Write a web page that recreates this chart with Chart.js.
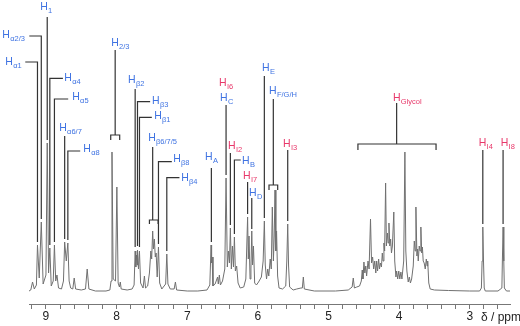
<!DOCTYPE html>
<html lang="en">
<head>
  <meta charset="UTF-8" />
  <title>1H NMR spectrum</title>
  <script src="https://cdn.jsdelivr.net/npm/chart.js"></script>
  <style>
    body { margin: 0; background: #fff; }
    canvas { display: block; }
  </style>
</head>
<body>
  <canvas id="nmrChart" width="520" height="326"></canvas>
  <script>
    // chemical shift (ppm) and intensity left to right
    const shiftPpm = [
      9.24, 9.215, 9.19, 9.165, 9.135, 9.12, 9.095, 9.066, 9.04, 9.0, 8.982, 8.963, 8.945, 8.925,
      8.897, 8.880, 8.862, 8.844, 8.822, 8.78, 8.752, 8.735, 8.712, 8.69, 8.672, 8.65, 8.62, 8.60,
      8.58, 8.5, 8.44, 8.416, 8.392, 8.3, 8.15,
      8.095, 8.078, 8.065, 8.048, 8.015, 7.996, 7.978, 7.96, 7.947, 7.935, 7.85, 7.78, 7.752, 7.737,
      7.728, 7.718, 7.71, 7.704, 7.69, 7.676, 7.66, 7.625, 7.606, 7.59, 7.56, 7.535, 7.515, 7.503,
      7.489, 7.478, 7.465, 7.452, 7.44, 7.425, 7.407, 7.39, 7.36, 7.305, 7.289, 7.273, 7.24, 7.185,
      7.167, 7.15, 7.0, 6.85,
      6.72, 6.68, 6.662, 6.655, 6.648, 6.635, 6.605, 6.57, 6.56, 6.545, 6.53, 6.5, 6.468, 6.45,
      6.432, 6.417, 6.402, 6.389, 6.375, 6.36, 6.345, 6.332, 6.318, 6.30, 6.28, 6.25, 6.2, 6.17,
      6.145, 6.135, 6.125, 6.11, 6.098, 6.086, 6.075, 6.062, 6.045, 6.02, 5.99, 5.95, 5.925, 5.908,
      5.895, 5.877, 5.86, 5.845, 5.825, 5.81, 5.795, 5.78, 5.768, 5.757, 5.745, 5.735, 5.72, 5.70,
      5.65, 5.605, 5.59, 5.577, 5.565, 5.55, 5.5, 5.45, 5.39, 5.37, 5.356, 5.342, 5.2, 4.9, 4.72,
      4.665, 4.649, 4.633, 4.6, 4.56,
      4.535, 4.522, 4.512, 4.498, 4.485, 4.472, 4.46, 4.44, 4.425, 4.405, 4.39, 4.375, 4.36, 4.345,
      4.33, 4.318, 4.305, 4.29, 4.278, 4.265, 4.25, 4.238, 4.228, 4.215, 4.205, 4.191, 4.18, 4.165,
      4.155, 4.144, 4.132, 4.12, 4.108, 4.095, 4.075, 4.062, 4.045, 4.035, 4.02, 4.005, 3.99, 3.975,
      3.96, 3.935, 3.918, 3.905, 3.89, 3.871, 3.855, 3.84, 3.823, 3.80, 3.785, 3.772, 3.762, 3.748,
      3.738, 3.729, 3.715, 3.703, 3.692, 3.68, 3.67, 3.659, 3.645, 3.63, 3.615, 3.603, 3.595, 3.58,
      3.56, 3.5, 3.3, 3.0, 2.86, 2.835, 2.825, 2.815, 2.805, 2.795, 2.78, 2.6, 2.545, 2.538, 2.528,
      2.518, 2.51, 2.48, 2.43
    ];
    const intensity = [
      0, 1, 9, 2, 6, 46, 13, 69, 7, 16, 148, 18, 43, 5,
      10, 46, 10, 16, 3, 2, 10, 49, 30, 48, 10, 3, 2, 13,
      2, 1, 2, 22, 2, 0, 0,
      1, 10, 139, 12, 10, 104, 8, 4, 9, 2, 1, 2, 6, 40,
      24, 36, 26, 41, 22, 40, 8, 3, 15, 3, 5, 18, 40, 32,
      60, 42, 52, 34, 38, 14, 44, 8, 2, 7, 37, 7, 2, 2,
      9, 1, 0, 0,
      1, 6, 46, 28, 34, 5, 7, 14, 7, 16, 6, 10, 22, 113,
      24, 40, 28, 63, 22, 45, 24, 54, 20, 25, 8, 3, 4, 12,
      74, 32, 55, 12, 22, 60, 26, 45, 8, 6, 9, 14, 30, 70,
      26, 12, 22, 15, 32, 22, 84, 30, 55, 101, 40, 60, 15, 3,
      2, 5, 30, 67, 25, 4, 1, 2, 3, 3, 14, 2, 0, 0, 1,
      4, 13, 3, 4, 5,
      10, 21, 12, 29, 18, 25, 15, 30, 22, 72, 28, 34, 22, 30,
      18, 30, 20, 32, 22, 28, 24, 38, 30, 48, 40, 108, 45, 58,
      48, 68, 45, 52, 38, 45, 79, 30, 14, 20, 12, 20, 12, 19,
      12, 30, 139, 40, 20, 9, 14, 8, 12, 25, 50, 40, 84, 35,
      42, 30, 45, 40, 64, 38, 44, 30, 28, 22, 32, 25, 30, 8,
      2, 1, 0.5, 0, 0, 3, 30, 64, 30, 3, 0, 0, 3, 30, 64,
      30, 3, 0, 0
    ];

    const tickPpm = [9.2, 9.0, 8.8, 8.6, 8.4, 8.2, 8.0, 7.8, 7.6, 7.4, 7.2, 7.0, 6.8, 6.6, 6.4, 6.2,
      6.0, 5.8, 5.6, 5.4, 5.2, 5.0, 4.8, 4.6, 4.4, 4.2, 4.0, 3.8, 3.6, 3.4, 3.2, 3.0, 2.8, 2.6];
    const majorPpm = [9, 8, 7, 6, 5, 4, 3];
    const tickLabels = ['9', '8', '7', '6', '5', '4', '3'];

    const BLUE = '#3f73e2';
    const RED = '#e8386a';

    // assignment labels: text anchor and leader lines in [ppm, intensity]
    const assignments = [
      { sub: '1', color: BLUE, at: [9.081, 281], paths: [[[8.982, 274], [8.982, 151]]] },
      { sub: 'α2/3', color: BLUE, at: [9.618, 253], paths: [[[9.236, 255], [9.066, 255], [9.066, 72]]] },
      { sub: 'α1', color: BLUE, at: [9.576, 226], paths: [[[9.293, 229], [9.12, 229], [9.12, 49]]] },
      { sub: 'α4', color: BLUE, at: [8.741, 210], paths: [[[8.760, 212.7], [8.945, 212.7], [8.945, 46]]] },
      { sub: 'α5', color: BLUE, at: [8.628, 191], paths: [[[8.685, 192], [8.880, 192], [8.880, 49]]] },
      { sub: 'α6/7', color: BLUE, at: [8.812, 160], paths: [[[8.735, 155], [8.735, 52]]] },
      { sub: 'α8', color: BLUE, at: [8.472, 139], paths: [[[8.515, 140], [8.69, 140], [8.69, 51]]] },
      { sub: '2/3', color: BLUE, at: [8.076, 245], paths: [
        [[8.02, 241], [8.02, 156]],
        [[8.083, 151], [8.083, 156], [7.956, 156], [7.956, 151]]] },
      { sub: 'β2', color: BLUE, at: [7.837, 208], paths: [[[7.737, 202], [7.737, 44]]] },
      { sub: 'β3', color: BLUE, at: [7.497, 187], paths: [[[7.525, 189.3], [7.704, 189.3], [7.704, 45]]] },
      { sub: 'β1', color: BLUE, at: [7.468, 172], paths: [[[7.501, 173.7], [7.676, 173.7], [7.676, 44]]] },
      { sub: 'β6/7/5', color: BLUE, at: [7.553, 150], paths: [
        [[7.489, 144], [7.489, 71]],
        [[7.535, 67], [7.535, 71], [7.412, 71], [7.412, 67]]] },
      { sub: 'β8', color: BLUE, at: [7.199, 129], paths: [[[7.218, 129.3], [7.407, 129.3], [7.407, 47]]] },
      { sub: 'β4', color: BLUE, at: [7.086, 110], paths: [[[7.110, 113.3], [7.289, 113.3], [7.289, 40]]] },
      { sub: 'A', color: BLUE, at: [6.747, 131], paths: [[[6.658, 123], [6.658, 49]]] },
      { sub: 'I6', color: RED, at: [6.549, 205], paths: [] },
      { sub: 'C', color: BLUE, at: [6.535, 190], paths: [[[6.45, 186], [6.45, 116]]] },
      { sub: 'I2', color: RED, at: [6.422, 142], paths: [[[6.389, 138], [6.389, 66]]] },
      { sub: 'B', color: BLUE, at: [6.224, 127], paths: [[[6.242, 131], [6.332, 131], [6.332, 57]]] },
      { sub: 'I7', color: RED, at: [6.209, 112], paths: [[[6.145, 109], [6.145, 77]]] },
      { sub: 'D', color: BLUE, at: [6.124, 95], paths: [[[6.086, 93], [6.086, 62]]] },
      { sub: 'E', color: BLUE, at: [5.940, 220], paths: [[[5.908, 215], [5.908, 73]]] },
      { sub: 'F/G/H', color: BLUE, at: [5.841, 197], paths: [
        [[5.781, 192], [5.781, 106]],
        [[5.842, 101], [5.842, 106], [5.719, 106], [5.719, 101]]] },
      { sub: 'I3', color: RED, at: [5.643, 144], paths: [[[5.577, 141], [5.577, 70]]] },
      { sub: 'Glycol', color: RED, at: [4.088, 190], paths: [
        [[4.035, 188], [4.035, 147]],
        [[4.583, 141], [4.583, 147], [3.477, 147], [3.477, 141]]] },
      { sub: 'I4', color: RED, at: [2.873, 145], paths: [[[2.815, 141], [2.815, 67]]] },
      { sub: 'I8', color: RED, at: [2.562, 145], paths: [[[2.528, 141], [2.528, 67]]] }
    ];

    const FONT = '"Liberation Sans", Arial, sans-serif';

    const assignmentPlugin = {
      id: 'assignments',
      afterDatasetsDraw(chart) {
        const { ctx, scales: { x, y } } = chart;
        ctx.save();
        ctx.strokeStyle = '#333';
        ctx.lineWidth = 1.2;
        assignments.forEach(a => {
          a.paths.forEach(p => {
            ctx.beginPath();
            p.forEach(([px, py], i) => {
              const cx = x.getPixelForValue(px), cy = y.getPixelForValue(py);
              if (i === 0) ctx.moveTo(cx, cy); else ctx.lineTo(cx, cy);
            });
            ctx.stroke();
          });
          const tx = x.getPixelForValue(a.at[0]);
          const ty = y.getPixelForValue(a.at[1]);
          ctx.fillStyle = a.color;
          ctx.textBaseline = 'alphabetic';
          ctx.font = '10.5px ' + FONT;
          ctx.fillText('H', tx, ty);
          const w = ctx.measureText('H').width;
          ctx.font = '7.5px ' + FONT;
          ctx.fillText(a.sub, tx + w + 0.3, ty + 2.5);
        });
        // axis title
        ctx.fillStyle = '#222';
        ctx.font = '12px ' + FONT;
        ctx.fillText('δ / ppm', 481, 321);
        ctx.restore();
      }
    };

    new Chart(document.getElementById('nmrChart'), {
      type: 'line',
      data: {
        datasets: [{
          data: shiftPpm.map((s, i) => ({ x: s, y: intensity[i] })),
          borderColor: '#707070',
          borderWidth: 1,
          pointRadius: 0,
          tension: 0,
          fill: false
        }]
      },
      options: {
        responsive: false,
        animation: false,
        layout: { padding: { left: 29, right: 10, top: 2, bottom: 0 } },
        plugins: { legend: { display: false }, tooltip: { enabled: false } },
        scales: {
          x: {
            type: 'linear',
            reverse: true,
            min: 2.43,
            max: 9.24,
            afterBuildTicks: s => { s.ticks = tickPpm.map(v => ({ value: v })); },
            afterFit: s => { s.height = 22; },
            grid: { drawOnChartArea: false, drawTicks: true, tickLength: 5, color: '#777' },
            border: { display: true, color: '#777', width: 1 },
            ticks: {
              autoSkip: false,
              maxRotation: 0,
              padding: 0,
              color: '#222',
              font: { family: FONT, size: 12 },
              callback: v => {
                const i = majorPpm.findIndex(m => Math.abs(m - v) < 1e-6);
                return i >= 0 ? tickLabels[i] : '';
              }
            }
          },
          y: { display: false, min: -13, max: 289 }
        }
      },
      plugins: [assignmentPlugin]
    });
  </script>
</body>
</html>
